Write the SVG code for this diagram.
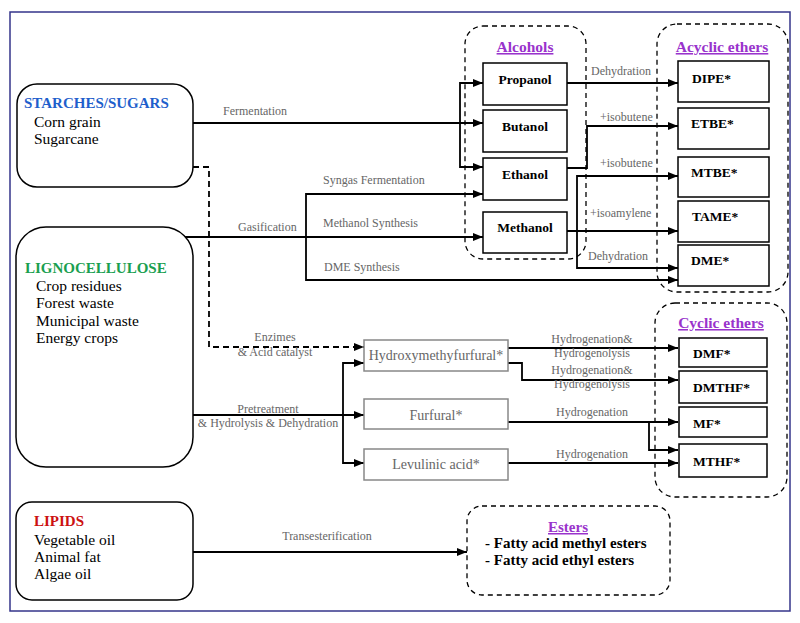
<svg xmlns="http://www.w3.org/2000/svg" width="800" height="623" viewBox="0 0 800 623">
<defs>
<marker id="ah" viewBox="0 0 10 8" refX="10" refY="4" markerWidth="10" markerHeight="8" markerUnits="userSpaceOnUse" orient="auto"><path d="M0,0 L10,4 L0,8 z" fill="#000"/></marker>
<style>
.src{fill:#fff;stroke:#000;stroke-width:1.5}
.grp{fill:none;stroke:#000;stroke-width:1.3;stroke-dasharray:5,4}
.box{fill:#fff;stroke:#000;stroke-width:1.5}
.gbox{fill:#fff;stroke:#888;stroke-width:1.5}
.ln{fill:none;stroke:#000;stroke-width:1.8;marker-end:url(#ah)}
.pl{fill:none;stroke:#000;stroke-width:1.8}
.dash{stroke-dasharray:6,4}
.lbl{font-family:"Liberation Serif",serif;font-size:12px;fill:#666}
.t{font-family:"Liberation Serif",serif;font-size:15.5px;fill:#000}
.hd{font-family:"Liberation Serif",serif;font-size:15px;font-weight:bold}
.nb{font-family:"Liberation Serif",serif;font-size:13.5px;font-weight:bold;fill:#000}
.ng{font-family:"Liberation Serif",serif;font-size:14px;fill:#666;text-anchor:middle}
.ttl{font-family:"Liberation Serif",serif;font-size:15.5px;font-weight:bold;fill:#9933cc;text-decoration:underline;text-anchor:middle}
</style>
</defs>
<rect width="800" height="623" fill="#fff"/>
<rect x="10" y="12" width="780" height="599" fill="none" stroke="#34348a" stroke-width="1.5"/>

<g id="connectors">
<path class="ln" d="M193,123 H483"/>
<path class="ln" d="M460,123 V83 H483"/>
<path class="ln" d="M460,123 V167 H483"/>
<path class="ln" d="M185,237 H483"/>
<path class="ln" d="M306,237 V194 H483"/>
<path class="ln" d="M306,237 V280 H678"/>
<path class="ln" d="M567,83 H678"/>
<path class="ln" d="M567,168 H587 V126 H678"/>
<path class="ln" d="M567,231 H678"/>
<path class="ln" d="M577,231 V176 H678"/>
<path class="ln" d="M577,231 V268 H678"/>
<path class="ln dash" d="M193,167 H209 V347 H364"/>
<path class="ln" d="M193,415 H364"/>
<path class="ln" d="M343,415 V363 H364"/>
<path class="ln" d="M343,415 V463 H364"/>
<path class="ln" d="M508,348 H678"/>
<path class="ln" d="M508,363 H522 V380 H678"/>
<path class="ln" d="M508,422 H678"/>
<path class="ln" d="M649,422 V450 H678"/>
<path class="ln" d="M508,463 H678"/>
<path class="ln" d="M193,552 H467"/>
<text class="lbl" x="223" y="115">Fermentation</text>
<text class="lbl" x="323" y="184">Syngas Fermentation</text>
<text class="lbl" x="238" y="231">Gasification</text>
<text class="lbl" x="323" y="227">Methanol Synthesis</text>
<text class="lbl" x="324" y="271">DME Synthesis</text>
<text class="lbl" x="591" y="75">Dehydration</text>
<text class="lbl" x="600" y="121">+isobutene</text>
<text class="lbl" x="600" y="167">+isobutene</text>
<text class="lbl" x="590" y="217">+isoamylene</text>
<text class="lbl" x="588" y="260">Dehydration</text>
<text class="lbl" x="275" y="341" text-anchor="middle">Enzimes</text>
<text class="lbl" x="275" y="356" text-anchor="middle">&amp; Acid catalyst</text>
<text class="lbl" x="268" y="413" text-anchor="middle">Pretreatment</text>
<text class="lbl" x="268" y="427" text-anchor="middle">&amp; Hydrolysis &amp; Dehydration</text>
<text class="lbl" x="592" y="343" text-anchor="middle">Hydrogenation&amp;</text>
<text class="lbl" x="592" y="357" text-anchor="middle">Hydrogenolysis</text>
<text class="lbl" x="592" y="374" text-anchor="middle">Hydrogenation&amp;</text>
<text class="lbl" x="592" y="388" text-anchor="middle">Hydrogenolysis</text>
<text class="lbl" x="592" y="416" text-anchor="middle">Hydrogenation</text>
<text class="lbl" x="592" y="458" text-anchor="middle">Hydrogenation</text>
<text class="lbl" x="327" y="540" text-anchor="middle">Transesterification</text>
</g>

<g id="starches">
<rect class="src" x="17" y="84" width="176" height="103" rx="20"/>
<text class="hd" x="24" y="108" fill="#1f5fcc">STARCHES/SUGARS</text>
<text class="t" x="34" y="127">Corn grain</text>
<text class="t" x="34" y="144">Sugarcane</text>
</g>
<g id="lignocellulose">
<rect class="src" x="16" y="227" width="177" height="240" rx="30"/>
<text class="hd" x="25" y="273" fill="#1a9f50">LIGNOCELLULOSE</text>
<text class="t" x="36" y="291">Crop residues</text>
<text class="t" x="36" y="308">Forest waste</text>
<text class="t" x="36" y="326">Municipal waste</text>
<text class="t" x="36" y="343">Energy crops</text>
</g>
<g id="lipids">
<rect class="src" x="16" y="502" width="177" height="98" rx="16"/>
<text class="hd" x="34" y="526" fill="#cc1111">LIPIDS</text>
<text class="t" x="34" y="545">Vegetable oil</text>
<text class="t" x="34" y="562">Animal fat</text>
<text class="t" x="34" y="579">Algae oil</text>
</g>

<g id="alcohols">
<rect class="grp" x="465" y="26" width="121" height="233" rx="18"/>
<text class="ttl" x="525" y="52">Alcohols</text>
</g>
<g id="propanol"><rect class="box" x="483" y="63" width="84" height="42"/><text class="nb" x="525" y="84" text-anchor="middle">Propanol</text></g>
<g id="butanol"><rect class="box" x="483" y="110" width="84" height="42"/><text class="nb" x="525" y="131" text-anchor="middle">Butanol</text></g>
<g id="ethanol"><rect class="box" x="483" y="158" width="84" height="42"/><text class="nb" x="525" y="179" text-anchor="middle">Ethanol</text></g>
<g id="methanol"><rect class="box" x="483" y="212" width="84" height="41"/><text class="nb" x="525" y="232" text-anchor="middle">Methanol</text></g>

<g id="acyclic-ethers">
<rect class="grp" x="657" y="24" width="131" height="268" rx="20"/>
<text class="ttl" x="722" y="52">Acyclic ethers</text>
</g>
<g id="dipe"><rect class="box" x="678" y="61" width="91" height="41"/><text class="nb" x="692" y="83">DIPE*</text></g>
<g id="etbe"><rect class="box" x="678" y="108" width="91" height="41"/><text class="nb" x="691" y="128">ETBE*</text></g>
<g id="mtbe"><rect class="box" x="678" y="157" width="91" height="40"/><text class="nb" x="691" y="177">MTBE*</text></g>
<g id="tame"><rect class="box" x="678" y="201" width="91" height="41"/><text class="nb" x="692" y="221">TAME*</text></g>
<g id="dme"><rect class="box" x="678" y="245" width="91" height="41"/><text class="nb" x="691" y="265">DME*</text></g>

<g id="hmf"><rect class="gbox" x="364" y="340" width="144" height="31"/><text class="ng" x="436" y="360">Hydroxymethyfurfural*</text></g>
<g id="furfural"><rect class="gbox" x="364" y="399" width="144" height="30"/><text class="ng" x="436" y="420">Furfural*</text></g>
<g id="levulinic"><rect class="gbox" x="364" y="449" width="144" height="31"/><text class="ng" x="436" y="469">Levulinic acid*</text></g>

<g id="cyclic-ethers">
<rect class="grp" x="655" y="303" width="132" height="194" rx="20"/>
<text class="ttl" x="721" y="328">Cyclic ethers</text>
</g>
<g id="dmf"><rect class="box" x="679" y="338" width="88" height="29"/><text class="nb" x="693" y="358">DMF*</text></g>
<g id="dmthf"><rect class="box" x="679" y="371" width="88" height="32"/><text class="nb" x="693" y="392">DMTHF*</text></g>
<g id="mf"><rect class="box" x="679" y="407" width="88" height="30"/><text class="nb" x="693" y="428">MF*</text></g>
<g id="mthf"><rect class="box" x="679" y="444" width="88" height="33"/><text class="nb" x="693" y="466">MTHF*</text></g>

<g id="esters">
<rect class="grp" x="467" y="506" width="203" height="89" rx="15"/>
<text class="ttl" x="568" y="532" style="font-size:15px">Esters</text>
<text class="hd" x="485" y="548" fill="#000">- Fatty acid methyl esters</text>
<text class="hd" x="485" y="565" fill="#000">- Fatty acid ethyl esters</text>
</g>
</svg>
